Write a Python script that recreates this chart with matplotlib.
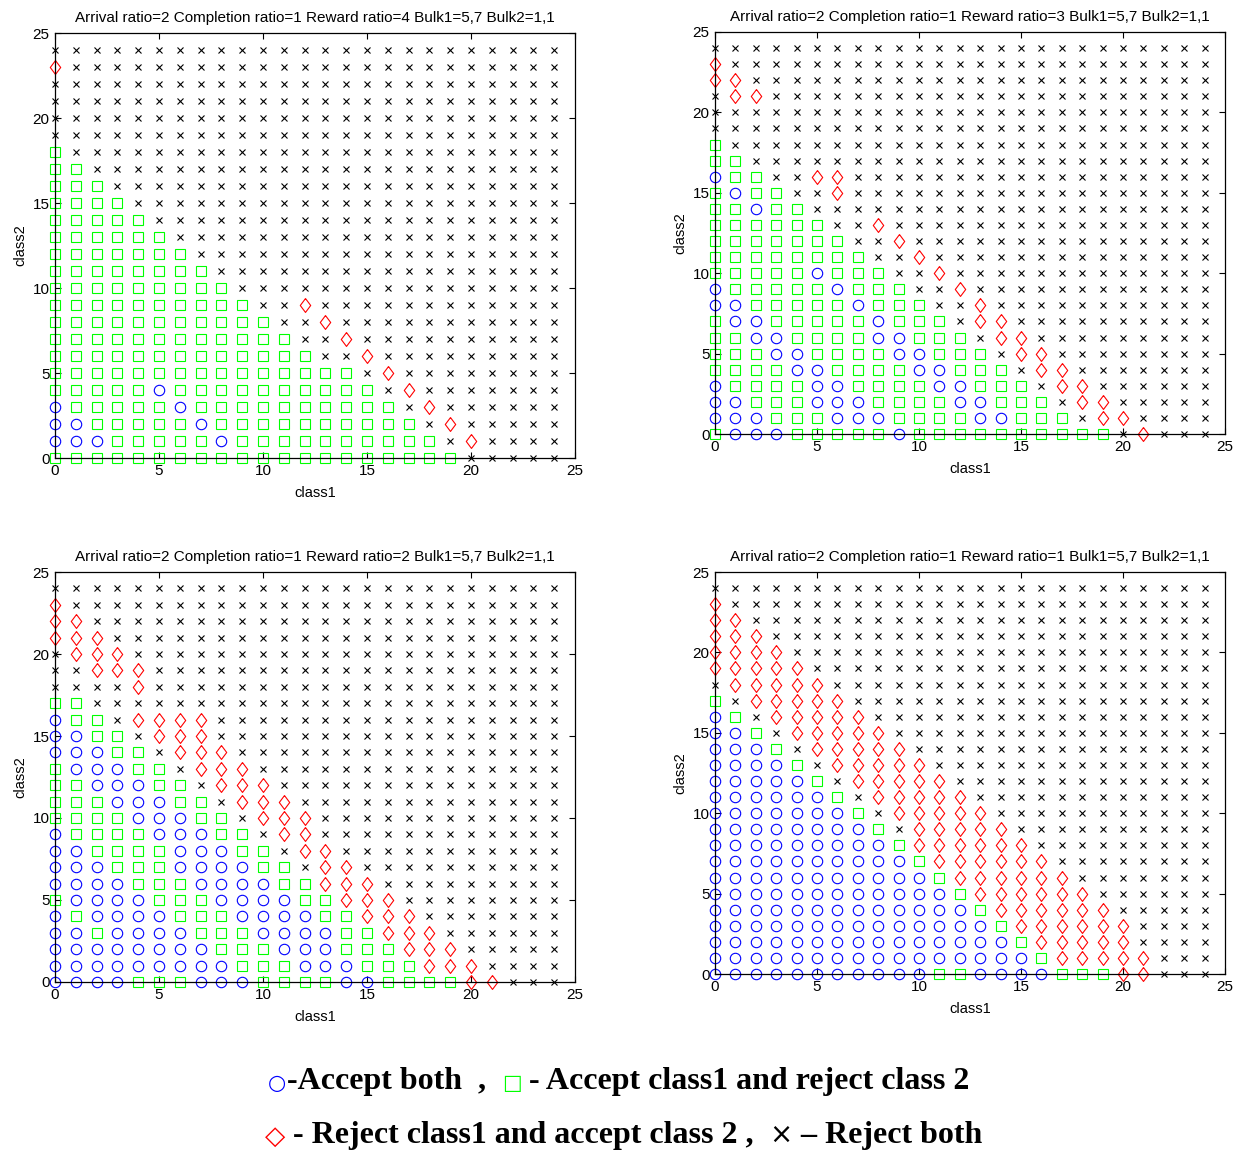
import matplotlib
matplotlib.use('Agg')
import matplotlib.pyplot as plt

# policy map per panel, one row per class2 value (y = 0 first)
# runs: o = accept both, s = accept class1 / reject class2,
#       d = reject class1 / accept class2, x = reject both
reward_ratios = [4, 3, 2, 1]
title_fmt = 'Arrival ratio=2 Completion ratio=1 Reward ratio={} Bulk1=5,7 Bulk2=1,1'

policy_r4 = [
    "s20 x5",
    "o3 s5 o1 s10 x1 d1 x4",
    "o2 s5 o1 s10 x1 d1 x5",
    "o1 s5 o1 s10 x1 d1 x6",
    "s5 o1 s10 x1 d1 x7",
    "s15 x1 d1 x8",
    "s13 x2 d1 x9",
    "s12 x2 d1 x10",
    "s11 x2 d1 x11",
    "s10 x2 d1 x12",
    "s9 x16",
    "s8 x17",
    "s7 x18",
    "s6 x19",
    "s5 x20",
    "s4 x21",
    "s3 x22",
    "s2 x23",
    "s1 x24",
    "x25",
    "x25",
    "x25",
    "x25",
    "d1 x24",
    "x25",
]

policy_r3 = [
    "s1 o3 s5 o1 s10 x1 d1 x3",
    "o3 s3 o3 s4 o2 s3 x1 d2 x4",
    "o2 s3 o3 s4 o2 s3 x1 d2 x5",
    "o1 s4 o2 s4 o2 s3 x1 d2 x6",
    "s4 o2 s4 o2 s3 x1 d2 x7",
    "s3 o2 s4 o2 s3 x1 d2 x8",
    "s2 o2 s4 o2 s3 x1 d2 x9",
    "s1 o2 s5 o1 s3 x1 d2 x10",
    "o2 s5 o1 s3 x2 d1 x11",
    "o1 s5 o1 s3 x2 d1 x12",
    "s5 o1 s3 x2 d1 x13",
    "s8 x2 d1 x14",
    "s7 x2 d1 x15",
    "s6 x2 d1 x16",
    "s2 o1 s2 x20",
    "s1 o1 s2 x2 d1 x18",
    "o1 s2 x2 d2 x18",
    "s2 x23",
    "s1 x24",
    "x25",
    "x25",
    "x1 d2 x22",
    "d2 x23",
    "d1 x24",
    "x25",
]

policy_r2 = [
    "o4 s3 o3 s4 o2 s4 d2 x3",
    "o9 s3 o3 s3 d3 x4",
    "o8 s3 o3 s3 d3 x5",
    "o2 s1 o4 s3 o4 s2 d3 x6",
    "o1 s1 o4 s3 o4 s2 d3 x7",
    "s1 o4 s3 o4 s2 d3 x8",
    "o4 s3 o4 s2 d3 x9",
    "o3 s3 o4 s2 x1 d2 x10",
    "o2 s4 o3 s2 x1 d2 x11",
    "o1 s4 o3 s2 x1 d2 x12",
    "s4 o3 s2 x1 d3 x12",
    "s3 o3 s2 x1 d3 x13",
    "s2 o3 s2 x1 d3 x14",
    "s1 o3 s2 x1 d3 x15",
    "o3 s2 x1 d3 x16",
    "o2 s2 x1 d3 x17",
    "o1 s2 x1 d4 x17",
    "s2 x23",
    "x4 d1 x20",
    "x2 d3 x20",
    "x1 d3 x21",
    "d3 x22",
    "d2 x23",
    "d1 x24",
    "x25",
]

policy_r1 = [
    "o11 s2 o4 s3 d2 x3",
    "o16 s1 d5 x3",
    "o15 s1 d5 x4",
    "o14 s1 d6 x4",
    "o13 s1 d6 x5",
    "o12 s1 d6 x6",
    "o11 s1 d6 x7",
    "o10 s1 d6 x8",
    "o9 s1 d6 x9",
    "o8 s1 x1 d5 x10",
    "o7 s1 x1 d5 x11",
    "o6 s1 x1 d5 x12",
    "o5 s1 x1 d5 x13",
    "o4 s1 x1 d5 x14",
    "o3 s1 x1 d5 x15",
    "o2 s1 x1 d5 x16",
    "o1 s1 x1 d5 x17",
    "s1 x1 d5 x18",
    "x1 d5 x19",
    "d5 x20",
    "d4 x21",
    "d3 x22",
    "d2 x23",
    "d1 x24",
    "x25",
]

policies = [policy_r4, policy_r3, policy_r2, policy_r1]


def expand(rows):
    grid = []
    for row in rows:
        cells = ''.join(tok[0] * int(tok[1:]) for tok in row.split())
        if len(cells) != 25:
            raise ValueError('bad row: ' + row)
        grid.append(cells)
    return grid


tall_diamond = [(0, 1), (0.75, 0), (0, -1), (-0.75, 0), (0, 1)]
styles = {
    'o': dict(marker='o', mec='#0000ff', ms=7.5),
    's': dict(marker='s', mec='#00ff00', ms=7),
    'd': dict(marker=tall_diamond, mec='#ff0000', ms=10),
    'x': dict(marker='x', mec='black', ms=4),
}

plt.rcParams['font.family'] = ['Liberation Sans', 'DejaVu Sans']

fig = plt.figure(figsize=(12.42, 11.5), dpi=100)
boxes = [
    [0.0443, 0.6017, 0.4187, 0.3696],
    [0.5757, 0.6226, 0.4106, 0.3496],
    [0.0443, 0.1461, 0.4187, 0.3565],
    [0.5757, 0.1530, 0.4106, 0.3496],
]

for box, rr, rows in zip(boxes, reward_ratios, policies):
    ax = fig.add_axes(box)
    grid = expand(rows)
    for code, st in styles.items():
        xs = [i for y, r in enumerate(grid) for i, c in enumerate(r) if c == code]
        ys = [y for y, r in enumerate(grid) for i, c in enumerate(r) if c == code]
        ax.plot(xs, ys, ls='none', mfc='none', mew=0.8, clip_on=False, **st)
    ax.set_xlim(0, 25)
    ax.set_ylim(0, 25)
    ax.set_xticks(range(0, 26, 5))
    ax.set_yticks(range(0, 26, 5))
    ax.tick_params(direction='in', top=True, right=True, length=4,
                   width=0.8, labelsize=11, pad=4)
    for sp in ax.spines.values():
        sp.set_linewidth(0.9)
    ax.set_title(title_fmt.format(rr), fontsize=11, pad=8)
    ax.set_xlabel('class1', fontsize=10.5, labelpad=6)
    ax.set_ylabel('class2', fontsize=10.5, labelpad=4)

# legend text below the panels
lax = fig.add_axes([0, 0, 1, 1], zorder=-1)
lax.axis('off')
serif = dict(family=['Liberation Serif', 'DejaVu Serif'], weight='bold', fontsize=23)
sym = dict(family=['DejaVu Sans'], fontsize=15)

lines = [
    (0.216, 0.0528, [('○', '#0000ff', sym), ('-Accept both  ,  ', 'black', serif),
                     ('□', '#00ff00', sym), (' - Accept class1 and reject class 2', 'black', serif)]),
    (0.213, 0.0058, [('◇', '#ff0000', dict(family=['DejaVu Sans'], fontsize=19)),
                     (' - Reject class1 and accept class 2 ,  ', 'black', serif),
                     ('×', 'black', dict(family=['DejaVu Sans'], fontsize=20)),
                     (' – Reject both', 'black', serif)]),
]
for x0, y0, pieces in lines:
    prev = None
    for text, color, kw in pieces:
        if prev is None:
            prev = lax.text(x0, y0, text, color=color, va='baseline', ha='left',
                            transform=fig.transFigure, **kw)
        else:
            prev = lax.annotate(text, xy=(1, y0), xycoords=(prev, 'figure fraction'),
                                color=color, va='baseline', ha='left', **kw)

fig.savefig('out.png', dpi=100)
